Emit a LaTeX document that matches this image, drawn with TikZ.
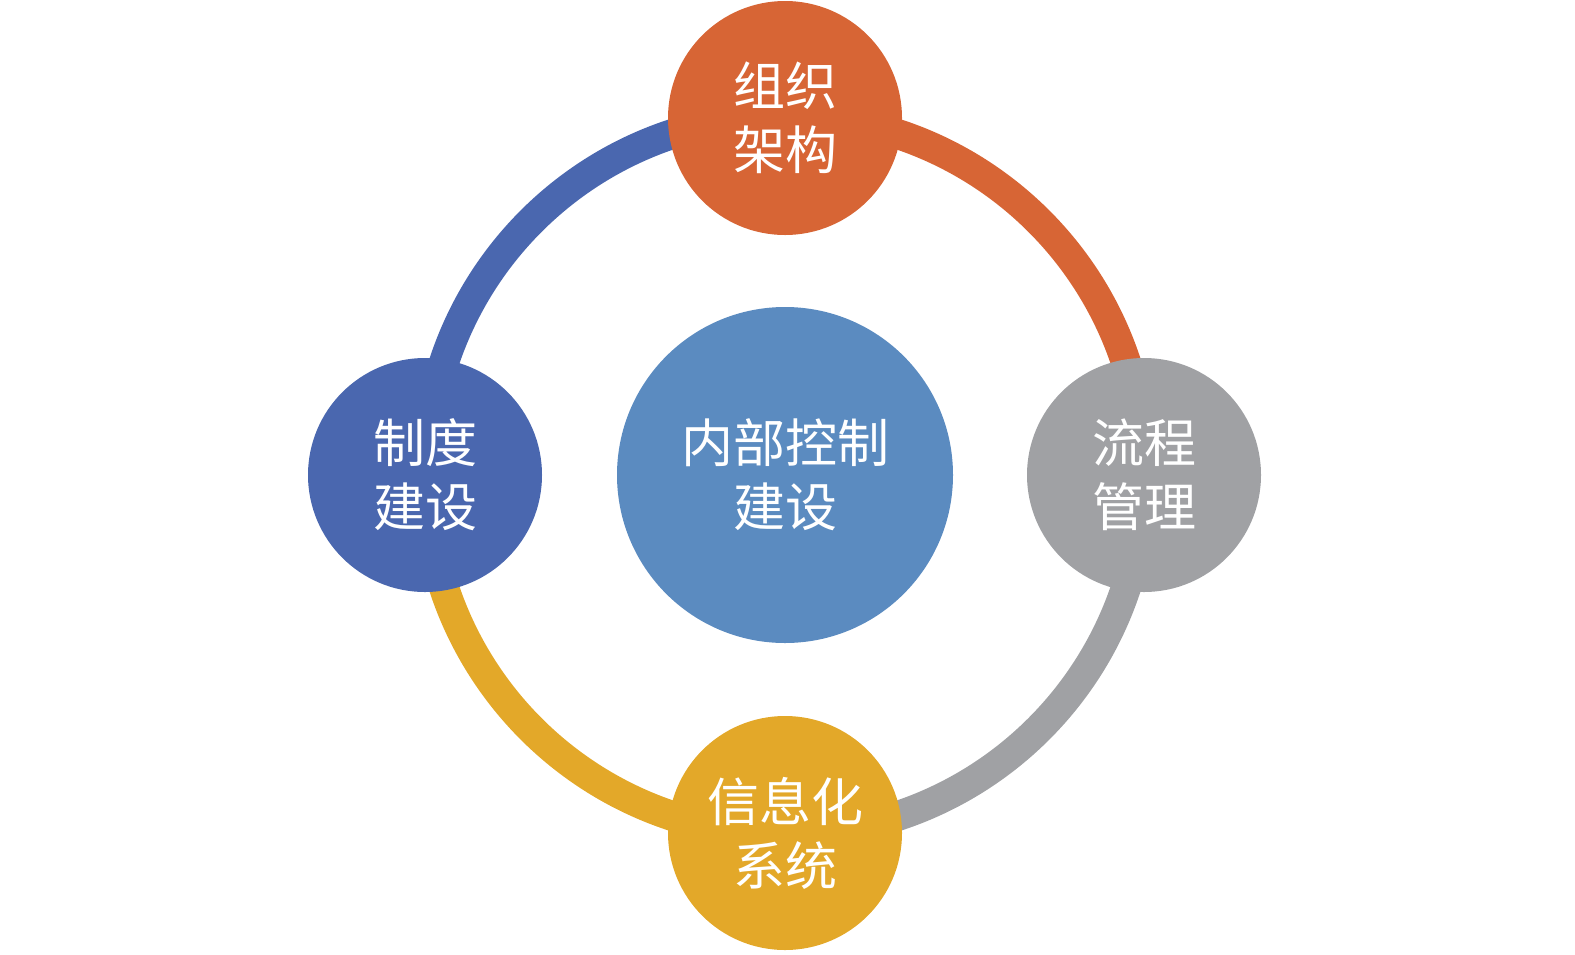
\documentclass[tikz,border=0pt]{standalone}
\usepackage{fontspec}
\newfontfamily\cjk{Noto Sans CJK SC}
\definecolor{cOr}{HTML}{D76535}
\definecolor{cGr}{HTML}{A0A1A4}
\definecolor{cYe}{HTML}{E3A829}
\definecolor{cBl}{HTML}{4A67AF}
\definecolor{cCe}{HTML}{5B8BC0}
\tikzset{
  sat/.style={circle, minimum size=234pt, inner sep=0pt, text=white, align=center, font=\cjk\fontsize{52}{64}\selectfont},
  ring/.style={line width=30pt}
}
\begin{document}
\begin{tikzpicture}[x=1pt,y=-1pt]
\useasboundingbox (0,0) rectangle (1575,954);
\coordinate (c) at (785,475);
\draw[ring,cGr] (c) ++(0:359) arc[start angle=0,end angle=90,radius=359];
\draw[ring,cYe] (c) ++(90:359) arc[start angle=90,end angle=180,radius=359];
\draw[ring,cBl] (c) ++(180:359) arc[start angle=180,end angle=270,radius=359];
\draw[ring,cOr] (c) ++(270:359) arc[start angle=270,end angle=360,radius=359];
\node[sat, fill=cCe, minimum size=336pt] (ce) at (c) {内部控制\\建设};
\node[sat, fill=cOr] (t) at (785,118) {组织\\架构};
\node[sat, fill=cGr] (r) at (1144,475) {流程\\管理};
\node[sat, fill=cYe] (b) at (785,833) {信息化\\系统};
\node[sat, fill=cBl] (l) at (425,475) {制度\\建设};
\end{tikzpicture}
\end{document}
